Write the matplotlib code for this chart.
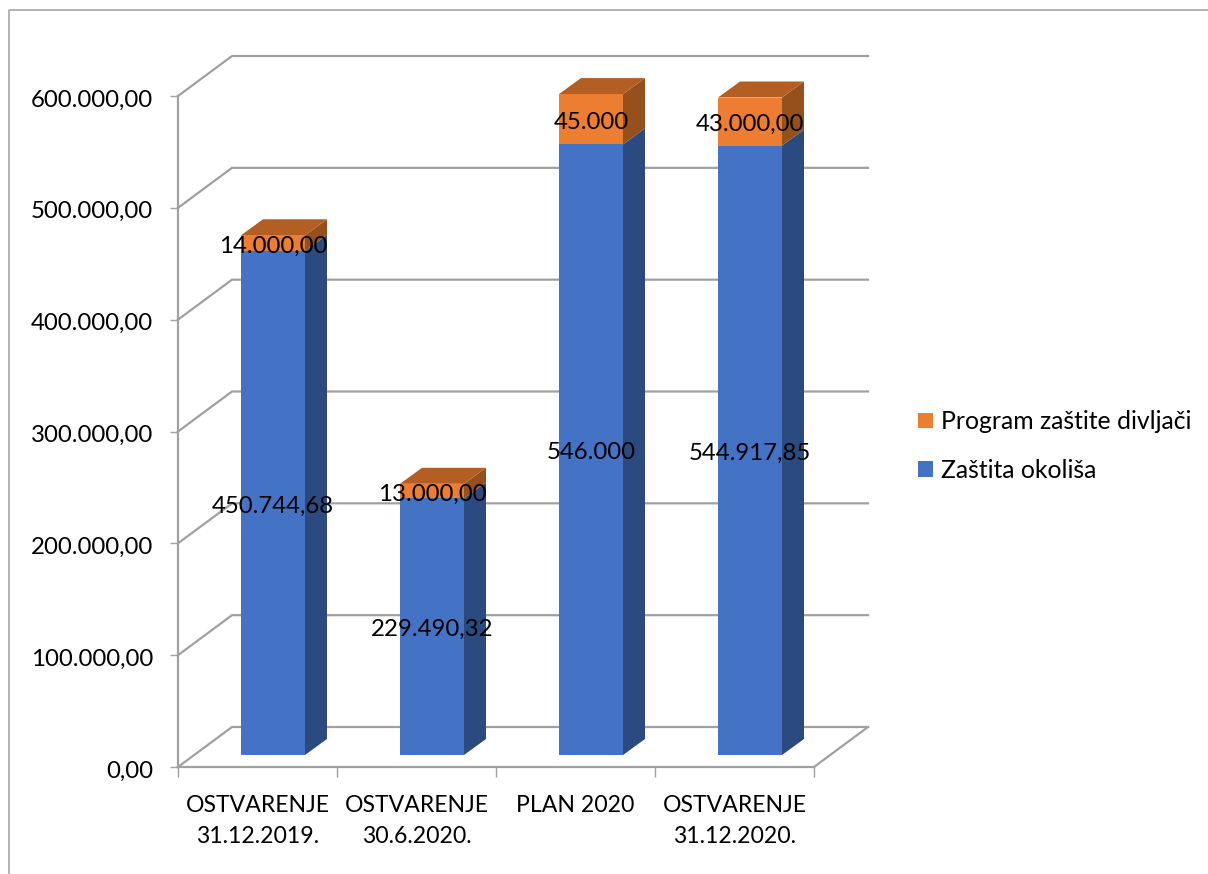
import matplotlib
matplotlib.use("Agg")
import matplotlib.pyplot as plt
from matplotlib.patches import Polygon, Patch
from matplotlib.lines import Line2D
from matplotlib.transforms import ScaledTranslation

categories = ["OSTVARENJE\n31.12.2019.", "OSTVARENJE\n30.6.2020.", "PLAN 2020", "OSTVARENJE\n31.12.2020."]
zastita = [450744.68, 229490.32, 546000, 544917.85]
program = [14000, 13000, 45000, 43000]
zastita_labels = ["450.744,68", "229.490,32", "546.000", "544.917,85"]
program_labels = ["14.000,00", "13.000,00", "45.000", "43.000,00"]
y_ticks = [0, 100000, 200000, 300000, 400000, 500000, 600000]
y_labels = ["0,00", "100.000,00", "200.000,00", "300.000,00", "400.000,00", "500.000,00", "600.000,00"]
series_names = ["Program zaštite divljači", "Zaštita okoliša"]

W, H = 1208, 874
plt.rcParams["font.family"] = ["Lato", "DejaVu Sans"]
FS = 17.3
fig = plt.figure(figsize=(W / 100, H / 100), dpi=100)
L, R, B, T = 178, 814, 767, 96
ax = fig.add_axes([L / W, 1 - B / H, (R - L) / W, (B - T) / H])
ax.set_xlim(0, 4)
ax.set_ylim(0, 600000)
px = 4 / (R - L)
py = 600000 / (B - T)

GRID = "#A0A0A0"
for s in ("top", "right"):
    ax.spines[s].set_visible(False)
for s in ("left", "bottom"):
    ax.spines[s].set_color(GRID)
    ax.spines[s].set_linewidth(1.6)
ax.patch.set_visible(False)

# back wall and floor
wall_x, wall_y = 54 * px, 40 * py
for v in y_ticks:
    ax.plot([0, wall_x, 4 + wall_x], [v, v + wall_y, v + wall_y], color=GRID, lw=1.6,
            clip_on=False, zorder=1, solid_joinstyle="miter")
ax.plot([4, 4 + wall_x], [0, wall_y], color=GRID, lw=1.6, clip_on=False, zorder=1)

# ticks
ax.set_yticks(y_ticks, y_labels, fontsize=FS, color="black")
ax.tick_params(axis="y", length=6, width=1, color=GRID, pad=12)
nudge = ScaledTranslation(0, -2 / 100, fig.dpi_scale_trans)
for lab in ax.get_yticklabels():
    lab.set_verticalalignment("center_baseline")
    lab.set_transform(lab.get_transform() + nudge)
ax.set_xticks(range(5), [""] * 5)
ax.tick_params(axis="x", which="major", length=7, width=1, color=GRID)
ax.set_xticks([i + 0.5 for i in range(4)], categories, minor=True, fontsize=16.6, linespacing=1.58)
ax.tick_params(axis="x", which="minor", length=0, pad=20)

# bars
BLUE, BLUE_SIDE = "#4472C4", "#2A4A80"
ORANGE, ORANGE_SIDE, ORANGE_TOP = "#ED7D31", "#95501C", "#B35E22"
bar_w = 64 * px
shift = 15.5 * px
base = 12 * py
dx, dy = 22 * px, 16 * py
centers = [i + 0.5 + shift for i in range(4)]


def side(xr, y0, y1, color):
    ax.add_patch(Polygon([(xr, y0), (xr + dx, y0 + dy), (xr + dx, y1 + dy), (xr, y1)],
                         facecolor=color, edgecolor="none", clip_on=False, zorder=2))


def label(x, y, s):
    ax.annotate(s, (x, y), xytext=(0, -2.2), textcoords="offset points", ha="center",
                va="center", fontsize=FS, zorder=5, annotation_clip=False)


ax.bar(centers, zastita, width=bar_w, bottom=base, color=BLUE, zorder=3, clip_on=False)
ax.bar(centers, program, width=bar_w, bottom=[base + z for z in zastita], color=ORANGE, zorder=3, clip_on=False)
for c, z, p, zl, pl in zip(centers, zastita, program, zastita_labels, program_labels):
    xr = c + bar_w / 2
    xl = c - bar_w / 2
    top = base + z + p
    side(xr, base, base + z, BLUE_SIDE)
    side(xr, base + z, top, ORANGE_SIDE)
    ax.add_patch(Polygon([(xl, top), (xr, top), (xr + dx, top + dy), (xl + dx, top + dy)],
                         facecolor=ORANGE_TOP, edgecolor="none", clip_on=False, zorder=2))
    label(c, base + z / 2, zl)
    label(c, base + z + p / 2, pl)

# legend
handles = [Patch(facecolor=ORANGE), Patch(facecolor=BLUE)]
ax.legend(handles, series_names, loc="center left", bbox_to_anchor=(918 / W, 1 - 446 / H),
          bbox_transform=fig.transFigure, frameon=False, fontsize=17.8,
          handlelength=0.6, handleheight=0.6, handletextpad=0.32, labelspacing=1.03,
          borderpad=0, borderaxespad=0)

# outer chart frame
fig.add_artist(Line2D([9 / W, 9 / W, 1], [0, 1 - 10 / H, 1 - 10 / H], color="#A6A6A6", lw=1.2))

fig.savefig("out.png", dpi=100)
